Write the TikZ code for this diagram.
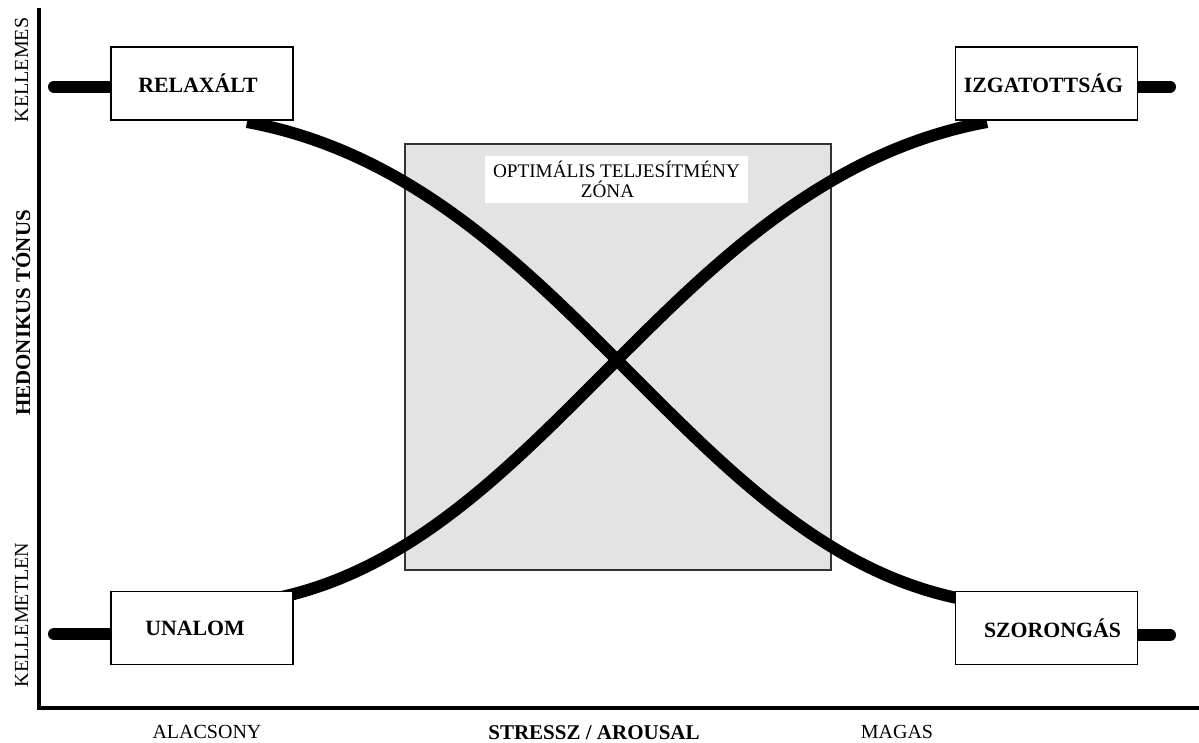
\documentclass[tikz,border=0pt]{standalone}
\usepackage{fontspec}
\setmainfont{Liberation Serif}
\begin{document}
\begin{tikzpicture}[x=1pt,y=-1pt,
  statebox/.style={draw=black,line width=1.5pt,fill=white,minimum width=182pt,minimum height=73pt,inner sep=0pt,font=\fontsize{21.8}{24}\selectfont\bfseries},
  stub/.style={line width=12pt,line cap=round},
  curve/.style={line width=12pt},
  axis/.style={line width=4pt},
  axlabel/.style={font=\fontsize{20}{22}\selectfont,anchor=base},
  axtitle/.style={font=\fontsize{21}{24}\selectfont\bfseries,anchor=base}]
\useasboundingbox (0,0) rectangle (1199,742);
% axes
\coordinate (ytop) at (39,8);
\coordinate (origin) at (39,708);
\coordinate (xend) at (1199,708);
\draw[axis] (ytop) -- (origin) -- (xend);
% optimal zone
\node[draw=black!80,line width=1.2pt,fill=black!11,minimum width=426pt,minimum height=426pt,inner sep=0pt] (zone) at (618,357) {};
\node[fill=white,minimum width=263pt,minimum height=47pt,inner sep=0pt,align=center,font=\fontsize{19.2}{20}\selectfont] (zlabel) at (616.5,179.5) {OPTIMÁLIS TELJESÍTMÉNY\\ZÓNA\hspace*{18pt}};
% curve end points
\coordinate (c1s) at (247,122);
\coordinate (c1e) at (957,598);
\coordinate (c2s) at (277,598);
\coordinate (c2e) at (987,122);
\draw[curve] (c1s) .. controls (560,180) and (684,540) .. (c1e);
\draw[curve] (c2s) .. controls (550,540) and (674,180) .. (c2e);
% stub ends
\coordinate (s1) at (54,86.5);
\coordinate (s2) at (1170,86.5);
\coordinate (s3) at (54,634);
\coordinate (s4) at (1170,635);
\coordinate (r1) at (150,86.5);
\coordinate (r2) at (1000,86.5);
\coordinate (r3) at (150,634);
\coordinate (r4) at (1000,635);
\draw[stub] (s1) -- (r1);
\draw[stub] (s2) -- (r2);
\draw[stub] (s3) -- (r3);
\draw[stub] (s4) -- (r4);
% state boxes
\node[statebox] (relax) at (202,83.5) {RELAXÁLT\hspace*{8pt}};
\node[statebox] (izg) at (1046.5,83.5) {IZGATOTTSÁG\hspace*{6pt}};
\node[statebox] (unal) at (202,628) {UNALOM\hspace*{14pt}};
\node[statebox] (szor) at (1046.5,628) {\hspace*{12pt}SZORONGÁS};
% axis labels
\node[axlabel] (low) at (207,738) {ALACSONY};
\node[axtitle] (xtitle) at (594,739) {STRESSZ / AROUSAL};
\node[axlabel] (high) at (897,738) {MAGAS};
\node[axlabel,rotate=90] (pleasant) at (28,70) {KELLEMES};
\node[axlabel,rotate=90] (unpleasant) at (28,615) {KELLEMETLEN};
\node[axtitle,rotate=90] (ytitle) at (30,313) {HEDONIKUS TÓNUS};
\end{tikzpicture}
\end{document}
